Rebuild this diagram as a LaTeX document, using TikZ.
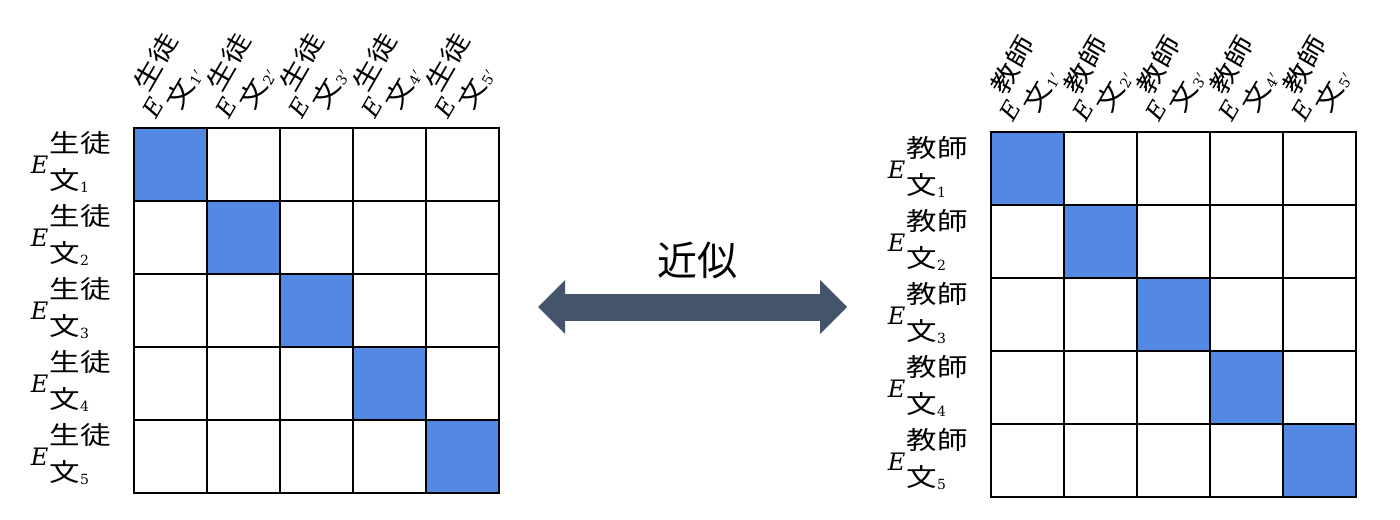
\documentclass[tikz,border=0pt]{standalone}
\usepackage{fontspec}
\usepackage{tikz}
\usetikzlibrary{arrows.meta, positioning}
\newfontfamily\jpwide[FakeStretch=1.22]{Noto Sans CJK JP}
\newfontfamily\jpfont{Noto Sans CJK JP}
\newfontfamily\eserif{DejaVu Serif}
\definecolor{diagblue}{RGB}{83,137,226}
\definecolor{arrowgray}{RGB}{68,84,106}
\newcommand\elab[2]{{\eserif\itshape\fontsize{12}{14}\selectfont E}\kern0.6pt\raisebox{10.4pt}{\begin{tabular}[t]{@{}l@{}}\jpwide #1\\\jpwide 文\raisebox{-1.5pt}{\eserif\fontsize{7}{8}\selectfont #2}\end{tabular}}}

\begin{document}
\begin{tikzpicture}[x=0.5pt, y=-0.5pt,
  cell/.style={draw, line width=1pt, minimum size=36.5pt, inner sep=0pt, outer sep=0pt},
  rowlab/.style={inner sep=0pt, anchor=base east, font=\fontsize{12.5}{18.5}\selectfont},
  collab/.style={inner sep=0pt, anchor=base west, rotate=60, font=\fontsize{12.5}{18.5}\selectfont}]
\useasboundingbox (0,0) rectangle (1400,519);
\pgfmathsetmacro{\cellW}{73}

% student matrix
\foreach \r in {1,...,5}{
  \node[rowlab] (srow\r) at (111,{128+36.5+\cellW*(\r-1)+9}) {\elab{生徒}{\r}};
  \node[collab] (scol\r) at ({134+36.5+\cellW*(\r-1)-14},120) {\elab{生徒}{\r$'$}};
  \foreach \c in {1,...,5}{
    \ifnum\r=\c \def\cellfill{diagblue}\else\def\cellfill{white}\fi
    \node[cell, fill=\cellfill] (s\r\c) at ({134+36.5+\cellW*(\c-1)},{128+36.5+\cellW*(\r-1)}) {};
  }
}

% teacher matrix
\foreach \r in {1,...,5}{
  \node[rowlab] (trow\r) at (968,{132+36.5+\cellW*(\r-1)+9.5}) {\elab{教師}{\r}};
  \node[collab] (tcol\r) at ({991+36.5+\cellW*(\r-1)-14},123) {\elab{教師}{\r$'$}};
  \foreach \c in {1,...,5}{
    \ifnum\r=\c \def\cellfill{diagblue}\else\def\cellfill{white}\fi
    \node[cell, fill=\cellfill] (t\r\c) at ({991+36.5+\cellW*(\c-1)},{132+36.5+\cellW*(\r-1)}) {};
  }
}

% arrow
\coordinate (arrL) at (538,307);
\coordinate (arrR) at (847,307);
\draw[arrowgray, line width=13.5pt, {Triangle[length=13.5pt,width=27pt,line width=0pt]}-{Triangle[length=13.5pt,width=27pt,line width=0pt]}] (arrL) -- (arrR);
\node[font=\jpfont\fontsize{20}{24}\selectfont] (approx) at (697,261) {近似};
\end{tikzpicture}
\end{document}
